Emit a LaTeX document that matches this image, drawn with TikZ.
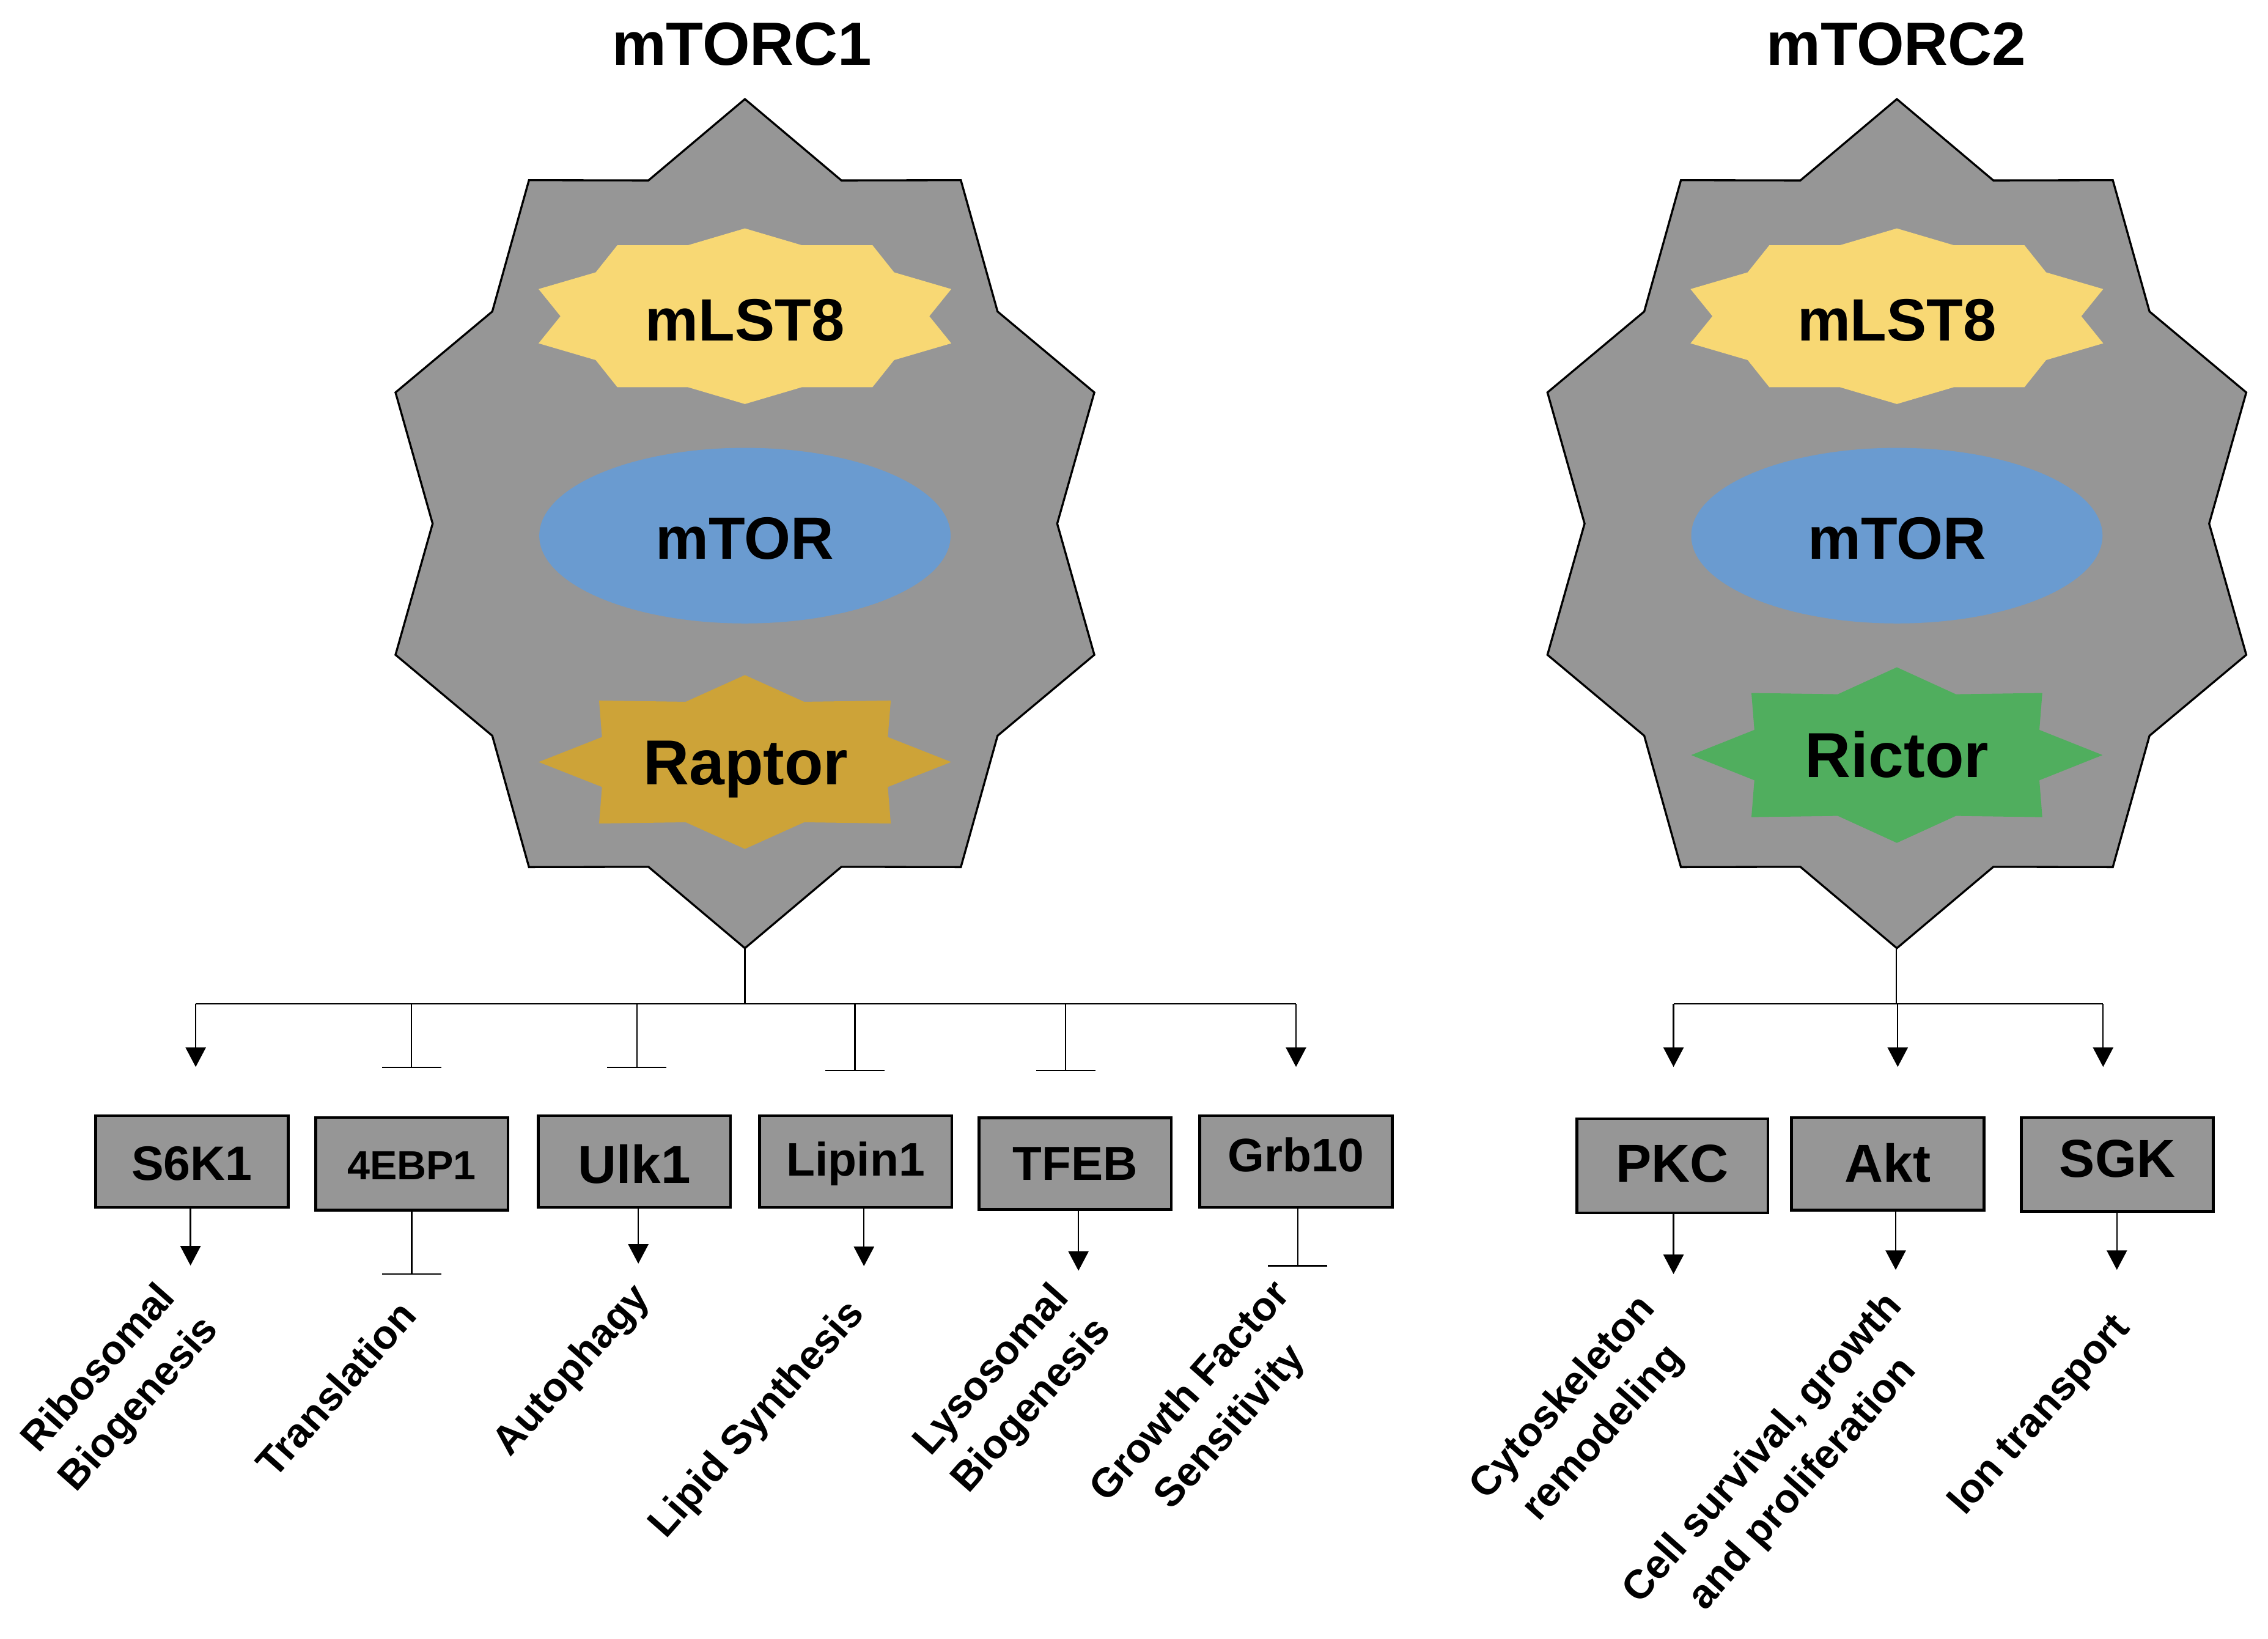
\documentclass[tikz,border=0pt]{standalone}
\usepackage{fontspec}
\setmainfont{Liberation Sans}
\usetikzlibrary{arrows.meta}
\definecolor{cgray}{HTML}{969696}
\definecolor{cyellow}{HTML}{F8D874}
\definecolor{cblue}{HTML}{6A9BD0}
\definecolor{craptor}{HTML}{CDA338}
\definecolor{crictor}{HTML}{50AE5E}
\newcommand\bfs[2]{\fontsize{#1}{#2}\selectfont\bfseries}
% #1 cx, #2 cy, #3 rx, #4 ry, #5 angle step, #6 last index, #7 inner ratio, #8 style
\newcommand\mystar[8]{%
  \begin{scope}[shift={(#1,#2)},xscale=#3,yscale=#4]
    \path[#8] (90:1) \foreach \k in {1,...,#6}{ -- ({90+#5*\k}:{ifthenelse(isodd(\k),#7,1)}) } -- cycle;
  \end{scope}}
\begin{document}
\begin{tikzpicture}[x=0.02cm,y=-0.02cm,
  cplx/.style={draw=black,line width=0.8pt,fill=cgray,line join=miter},
  box/.style={draw=black,line width=1.1pt,fill=cgray,minimum width=2.66cm,minimum height=1.27cm,inner sep=0pt,text depth=0pt},
  ln/.style={line width=0.55pt},
  act/.style={ln,-{Triangle[length=0.27cm,width=0.28cm]}},
  inh/.style={ln,-{Bar[width=0.82cm]}},
  lbl/.style={rotate=48.5,align=center,inner sep=0pt,font=\bfs{16}{21}},
  ttl/.style={anchor=base,font=\bfs{24}{28}},
  inner/.style={anchor=base,font=\bfs{23.5}{28}},
  inner2/.style={anchor=base,font=\bfs{25}{30}}]
\fill[white] (0,0) rectangle (1568,1133);
\useasboundingbox (0,0) rectangle (1568,1133);

% titles
\node[ttl] (t1) at (513,45) {mTORC1};
\node[ttl] (t2) at (1311,45) {mTORC2};

% complexes
\mystar{515}{362}{254}{293.5}{18}{19}{0.85}{cplx}
\mystar{1311.4}{362}{254}{293.5}{18}{19}{0.85}{cplx}
\mystar{515}{218.6}{150}{60.7}{18}{19}{0.85}{fill=cyellow}
\mystar{1311.4}{218.6}{150}{60.7}{18}{19}{0.85}{fill=cyellow}
\fill[cblue] (515,370.3) ellipse [x radius=2.844cm, y radius=1.214cm];
\fill[cblue] (1311.4,370.3) ellipse [x radius=2.844cm, y radius=1.214cm];
\mystar{515}{526.8}{142.6}{60.1}{22.5}{15}{0.75}{fill=craptor}
\mystar{1311.4}{522}{142.2}{60.7}{22.5}{15}{0.75}{fill=crictor}

\node[inner] (mlst1) at (515,235.5) {mLST8};
\node[inner] (mtor1) at (515,386.4) {mTOR};
\node[inner2] (raptor) at (515.5,542.3) {Raptor};
\node[inner] (mlst2) at (1311.4,235.5) {mLST8};
\node[inner] (mtor2) at (1311.4,386.4) {mTOR};
\node[inner2] (rictor) at (1311.4,537.3) {Rictor};

% boxes
\node[box,text height=0.516cm,font=\bfs{19}{22}] (s6k1) at (132.7,803) {S6K1};
\node[box,text height=0.436cm,font=\bfs{16}{19},minimum height=1.28cm] (ebp) at (284.7,804.5) {4EBP1};
\node[box,text height=0.596cm,font=\bfs{21}{25}] (ulk) at (438.5,803) {Ulk1};
\node[box,text height=0.40cm,font=\bfs{18.5}{22}] (lipin) at (591.5,803) {Lipin1};
\node[box,text height=0.456cm,font=\bfs{18.8}{22}] (tfeb) at (743.3,804.5) {TFEB};
\node[box,text height=0.28cm,font=\bfs{18.5}{22}] (grb) at (896,803) {Grb10};
\node[box,text height=0.452cm,font=\bfs{21}{25},minimum width=2.64cm,minimum height=1.3cm] (pkc) at (1156.2,806) {PKC};
\node[box,text height=0.508cm,font=\bfs{21}{25},minimum height=1.28cm] (akt) at (1305.1,804.6) {Akt};
\node[box,text height=0.352cm,font=\bfs{21}{25},minimum width=2.65cm,minimum height=1.3cm] (sgk) at (1463.8,805) {SGK};

% mTORC1 connectors
\coordinate (c1bot) at (515,655.5);
\coordinate (j1) at (515,694);
\coordinate (b1L) at (135.3,694);
\coordinate (b1R) at (896,694);
\draw[ln] (c1bot) -- (j1);
\draw[ln] (b1L) -- (b1R);
\coordinate (u1) at (135.3,737.6);
\coordinate (u2) at (284.5,738.5);
\coordinate (u3) at (440.3,738.5);
\coordinate (u4) at (591,740.6);
\coordinate (u5) at (736.7,740.6);
\coordinate (u6) at (896,737.6);
\draw[act] (b1L) -- (u1);
\draw[inh] (u2 |- b1L) -- (u2);
\draw[inh] (u3 |- b1L) -- (u3);
\draw[inh] (u4 |- b1L) -- (u4);
\draw[inh] (u5 |- b1L) -- (u5);
\draw[act] (b1R) -- (u6);

% mTORC2 connectors
\coordinate (c2bot) at (1311,655.5);
\coordinate (j2) at (1311,694);
\coordinate (b2L) at (1157,694);
\coordinate (b2R) at (1454,694);
\draw[ln] (c2bot) -- (j2);
\draw[ln] (b2L) -- (b2R);
\coordinate (u7) at (1157,737.6);
\coordinate (u8) at (1312,737.6);
\coordinate (u9) at (1454,737.6);
\draw[act] (b2L) -- (u7);
\draw[act] (u8 |- b2L) -- (u8);
\draw[act] (b2R) -- (u9);

% lower connectors
\coordinate (l1) at (131.7,874.9);
\coordinate (l2) at (284.6,881.3);
\coordinate (l3) at (441.3,873.6);
\coordinate (l4) at (597.3,875.3);
\coordinate (l5) at (745.6,878.5);
\coordinate (l6) at (897.2,875.6);
\coordinate (l7) at (1157,880.8);
\coordinate (l8) at (1310.6,877.9);
\coordinate (l9) at (1463.5,877.9);
\draw[act] (l1 |- s6k1.south) -- (l1);
\draw[inh] (l2 |- ebp.south) -- (l2);
\draw[act] (l3 |- ulk.south) -- (l3);
\draw[act] (l4 |- lipin.south) -- (l4);
\draw[act] (l5 |- tfeb.south) -- (l5);
\draw[inh] (l6 |- grb.south) -- (l6);
\draw[act] (l7 |- pkc.south) -- (l7);
\draw[act] (l8 |- akt.south) -- (l8);
\draw[act] (l9 |- sgk.south) -- (l9);

% labels
\node[lbl] (lab1) at (83,959) {Ribosomal\\Biogenesis};
\node[lbl] (lab2) at (232,960) {Translation};
\node[lbl] (lab3) at (396,948) {Autophagy};
\node[lbl] (lab4) at (524,982) {Lipid Synthesis};
\node[lbl] (lab5) at (700,960) {Lysosomal\\Biogenesis};
\node[lbl] (lab6) at (837.5,975) {Growth Factor\\Sensitivity};
\node[lbl] (lab7) at (1095,979) {Cytoskeleton\\remodeling};
\node[lbl] (lab8) at (1233,1014) {Cell survival, growth\\and proliferation};
\node[lbl] (lab9) at (1411,979) {Ion transport};
\end{tikzpicture}
\end{document}
